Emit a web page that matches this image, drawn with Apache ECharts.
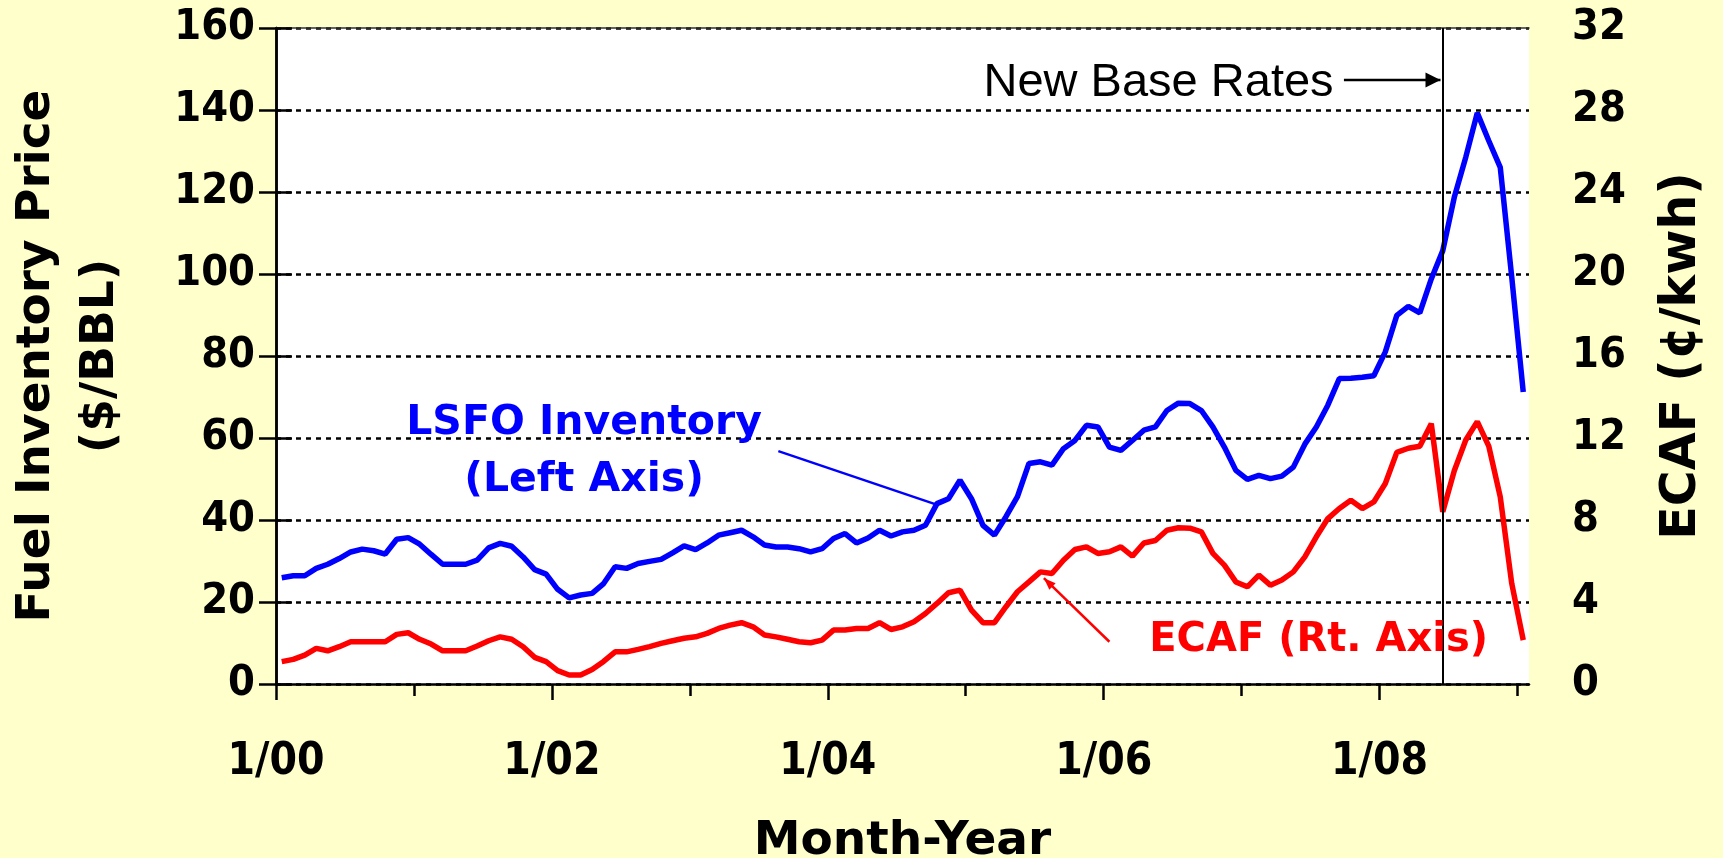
<!DOCTYPE html>
<html><head><meta charset="utf-8">
<script src="https://cdn.jsdelivr.net/npm/echarts@6/dist/echarts.min.js"></script>
<style>html,body{margin:0;padding:0;background:#FFFFCC;} #c{width:1723px;height:858px;}</style>
</head><body><div id="c"></div>
<script>
// ---------- DATA ----------
// monthly categories 1/00 .. 1/09
const months = [];
for (let y = 0; y <= 9; y++) {
  for (let m = 1; m <= 12; m++) {
    if (y === 9 && m > 1) break;
    months.push(m + '/' + String(y).padStart(2, '0'));
  }
}
// LSFO inventory price, $/BBL (left axis)
const lsfo = [
  25.9, 26.4, 26.4, 28.2, 29.2, 30.6, 32.2, 32.9, 32.5, 31.7, 35.3, 35.7,
  34.1, 31.6, 29.2, 29.2, 29.2, 30.2, 33.2, 34.3, 33.6, 31.0, 27.9, 26.8,
  23.1, 21.0, 21.7, 22.1, 24.5, 28.6, 28.2, 29.4, 29.9, 30.4, 32.0, 33.7,
  32.8, 34.4, 36.3, 36.9, 37.5, 35.9, 33.9, 33.4, 33.4, 33.0, 32.2, 33.0,
  35.5, 36.7, 34.4, 35.6, 37.5, 36.1, 37.1, 37.5, 38.7, 44.0, 45.2, 49.7,
  45.2, 38.7, 36.3, 40.8, 45.7, 53.8, 54.2, 53.4, 57.4, 59.4, 63.1, 62.7,
  57.8, 57.0, 59.4, 61.9, 62.7, 66.7, 68.5, 68.4, 66.7, 62.7, 57.8, 52.1,
  49.9, 50.9, 50.1, 50.7, 52.9, 58.5, 62.7, 68.0, 74.5, 74.6, 74.8, 75.2,
  81.0, 89.9, 92.1, 90.5, 98.8, 105.7, 118.7, 128.5, 139.3, 132.5, 126.0, 99.2,
  71.2
];
// ECAF, cents/kwh (right axis)
const ecaf = [
  1.09, 1.20, 1.41, 1.74, 1.62, 1.82, 2.06, 2.06, 2.06, 2.06, 2.42, 2.50,
  2.18, 1.95, 1.62, 1.62, 1.62, 1.85, 2.11, 2.30, 2.18, 1.82, 1.30, 1.09,
  0.65, 0.44, 0.44, 0.71, 1.10, 1.57, 1.57, 1.69, 1.82, 1.98, 2.11, 2.23,
  2.30, 2.47, 2.71, 2.87, 2.99, 2.79, 2.39, 2.30, 2.18, 2.06, 2.01, 2.14,
  2.63, 2.63, 2.71, 2.71, 2.99, 2.66, 2.79, 3.04, 3.44, 3.93, 4.45, 4.58,
  3.60, 2.99, 2.99, 3.77, 4.50, 4.98, 5.47, 5.39, 6.04, 6.56, 6.69, 6.37,
  6.45, 6.69, 6.24, 6.88, 7.00, 7.50, 7.62, 7.60, 7.42, 6.37, 5.80, 4.98,
  4.74, 5.31, 4.82, 5.07, 5.47, 6.20, 7.18, 8.07, 8.56, 8.96, 8.56, 8.88,
  9.78, 11.3, 11.5, 11.6, 12.7, 8.4, 10.4, 11.9, 12.8, 11.6, 9.13, 4.9,
  2.14
];
const xTickLabels = ['1/00', '1/02', '1/04', '1/06', '1/08'];
const xMinorTicks = ['1/01', '1/03', '1/05', '1/07', '1/09'];
const baseRateMonth = '6/08';
const leftAxisRange = [0, 160, 20];
const rightAxisRange = [0, 32, 4];

// ---------- CHART ----------
const FONT = '"DejaVu Sans", sans-serif';
const TICKFONT = '"DejaVu Sans Condensed", "DejaVu Sans", sans-serif';
const majorVals = xTickLabels.map(l => months.indexOf(l));
const minorVals = xMinorTicks.map(l => months.indexOf(l));
const N = months.length;

const chart = echarts.init(document.getElementById('c'), null, {renderer: 'canvas'});
const black = '#000';
const option = {
  backgroundColor: '#FFFFCC',
  animation: false,
  grid: {left: 276, right: 194, top: 28, bottom: 174, containLabel: false, outerBoundsMode: 'none',
    show: true, backgroundColor: '#ffffff', borderWidth: 0},
  xAxis: [
    {
      type: 'category', data: months, boundaryGap: true,
      axisLine: {show: true, onZero: false, lineStyle: {color: black, width: 2.5}},
      axisTick: {show: false}, axisLabel: {show: false}, splitLine: {show: false},
      name: 'Month-Year', nameLocation: 'middle', nameGap: 134,
      nameTextStyle: {fontFamily: FONT, fontWeight: 'bold', fontSize: 47, color: black}
    },
    {
      type: 'value', min: 0, max: N, position: 'bottom',
      axisLine: {show: false},
      axisTick: {show: true, inside: false, length: 16, customValues: majorVals, lineStyle: {color: black, width: 2.5}},
      axisLabel: {show: true, customValues: majorVals, margin: 57, formatter: v => months[v],
        fontFamily: TICKFONT, fontWeight: 'bold', fontSize: 44, color: black},
      splitLine: {show: false}
    },
    {
      type: 'value', min: 0, max: N, position: 'bottom',
      axisLine: {show: false},
      axisTick: {show: true, length: 12, customValues: minorVals, lineStyle: {color: black, width: 2.5}},
      axisLabel: {show: false}, splitLine: {show: false}
    },
    {
      type: 'value', min: 0, max: N, position: 'top',
      axisLine: {show: true, onZero: false, lineStyle: {color: '#333', width: 1.5}},
      axisTick: {show: false}, axisLabel: {show: false}, splitLine: {show: false}
    }
  ],
  yAxis: [
    {
      type: 'value', position: 'left', min: leftAxisRange[0], max: leftAxisRange[1], interval: leftAxisRange[2],
      axisLine: {show: true, lineStyle: {color: black, width: 2.5}},
      axisTick: {show: true, length: 17, lineStyle: {color: black, width: 2.5}},
      axisLabel: {margin: 21, fontFamily: TICKFONT, fontWeight: 'bold', fontSize: 43, color: black},
      splitLine: {show: true, lineStyle: {color: black, width: 2.5, type: [5, 5]}},
      name: 'Fuel Inventory Price\n($/BBL)', nameLocation: 'middle', nameGap: 143,
      nameTextStyle: {fontFamily: FONT, fontWeight: 'bold', fontSize: 47, lineHeight: 64, color: black}
    },
    {
      type: 'value', position: 'right', min: rightAxisRange[0], max: rightAxisRange[1], interval: rightAxisRange[2],
      axisLine: {show: true, lineStyle: {color: black, width: 2.5}},
      axisTick: {show: true, length: 16, lineStyle: {color: black, width: 2.5}},
      axisLabel: {margin: 43, fontFamily: TICKFONT, fontWeight: 'bold', fontSize: 43, color: black},
      splitLine: {show: false},
      name: 'ECAF (¢/kwh)', nameLocation: 'middle', nameGap: 124,
      nameTextStyle: {fontFamily: FONT, fontWeight: 'bold', fontSize: 49, lineHeight: 58, color: black}
    },
    {
      type: 'value', position: 'right', min: rightAxisRange[0], max: rightAxisRange[1], interval: rightAxisRange[2],
      axisLine: {show: false},
      axisTick: {show: true, inside: true, length: 17, lineStyle: {color: black, width: 2.5}},
      axisLabel: {show: false}, splitLine: {show: false}
    }
  ],
  series: [
    {
      name: 'LSFO Inventory', type: 'line', data: lsfo, xAxisIndex: 0, yAxisIndex: 0,
      symbol: 'none', lineStyle: {color: '#0000FF', width: 5.5}, z: 3,
      markLine: {
        silent: true, symbol: ['none', 'none'], label: {show: false},
        lineStyle: {color: black, width: 2, type: 'solid'},
        data: [{xAxis: baseRateMonth}]
      }
    },
    {
      name: 'ECAF', type: 'line', data: ecaf, xAxisIndex: 0, yAxisIndex: 1,
      symbol: 'none', lineStyle: {color: '#FF0000', width: 5.5}, z: 3
    }
  ]
};
chart.setOption(option);

// ---------- ANNOTATIONS (anchored in data coordinates: [month position, left-axis value]) ----------
function px(pt) { return chart.convertToPixel({xAxisIndex: 1, yAxisIndex: 0}, pt); }
function arrow(from, to, color, width, headLen, headW, withHead) {
  const a = px(from), b = px(to);
  const els = [{type: 'line', shape: {x1: a[0], y1: a[1], x2: b[0], y2: b[1]}, style: {stroke: color, lineWidth: width}, z: 100}];
  if (withHead) {
    const dx = b[0] - a[0], dy = b[1] - a[1], L = Math.hypot(dx, dy);
    const ux = dx / L, uy = dy / L, nx = -uy, ny = ux;
    const bx = b[0] - ux * headLen, by = b[1] - uy * headLen;
    els.push({type: 'polygon', shape: {points: [[b[0], b[1]], [bx + nx * headW / 2, by + ny * headW / 2], [bx - nx * headW / 2, by - ny * headW / 2]]},
      style: {fill: color}, z: 101});
  }
  return els;
}
function label(pos, text, style) {
  const p = px(pos);
  return {type: 'text', x: p[0], y: p[1], z: 102, style: Object.assign({text: text}, style)};
}
const graphics = [].concat(
  [label([92.0, 146.5], 'New Base Rates', {font: '47px "Liberation Sans", Arial, sans-serif', fill: black, align: 'right', verticalAlign: 'middle'})],
  arrow([92.9, 147.3], [101.3, 147.3], black, 2.5, 15, 15, true),
  [label([26.8, 56.6], 'LSFO Inventory\n(Left Axis)', {font: 'bold 41px ' + FONT, fill: '#0000FF', align: 'center', verticalAlign: 'middle', lineHeight: 57})],
  arrow([43.7, 56.8], [57.4, 43.8], '#0000FF', 2.5, 0, 0, false),
  [label([90.7, 10.5], 'ECAF (Rt. Axis)', {font: 'bold 40px ' + FONT, fill: '#FF0000', align: 'center', verticalAlign: 'middle'})],
  arrow([72.5, 10.3], [66.8, 25.8], '#FF0000', 2.5, 12, 9, true)
);
chart.setOption({graphic: graphics});
</script>
</body></html>
